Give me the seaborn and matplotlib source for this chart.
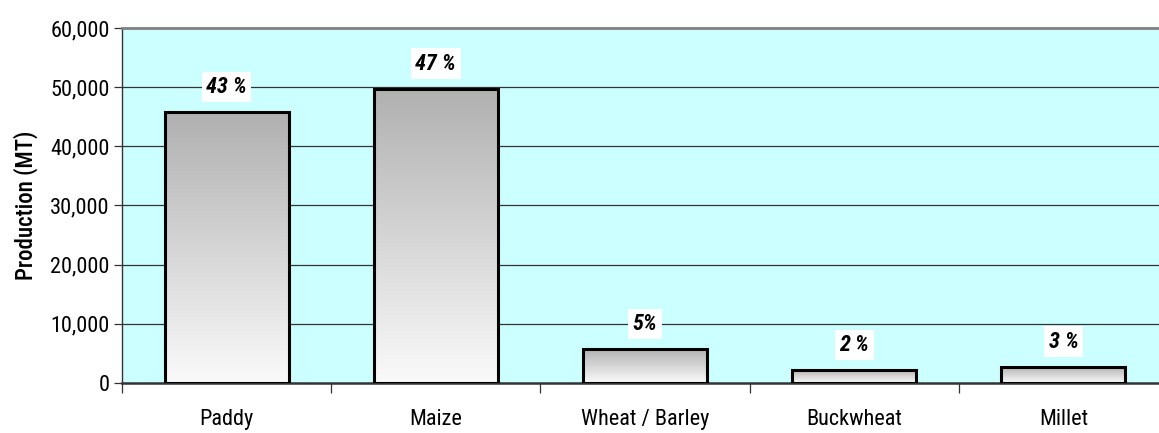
import numpy as np
import pandas as pd
import matplotlib
matplotlib.use("Agg")
import matplotlib.pyplot as plt
import seaborn as sns
from matplotlib.ticker import FuncFormatter, FixedLocator

crops = ["Paddy", "Maize", "Wheat / Barley", "Buckwheat", "Millet"]
production = [45800, 49700, 5750, 2200, 2750]
share_labels = ["43 %", "47 %", "5%", "2 %", "3 %"]
yticks = [0, 10000, 20000, 30000, 40000, 50000, 60000]

sns.set_theme(style="white")
plt.rcParams["font.family"] = ["Roboto Condensed", "Liberation Sans", "DejaVu Sans"]
plt.rcParams["text.color"] = "black"
plt.rcParams["axes.labelcolor"] = "black"
plt.rcParams["xtick.color"] = "black"
plt.rcParams["ytick.color"] = "black"

df = pd.DataFrame({"crop": crops, "prod": production})

fig = plt.figure(figsize=(11.59, 4.33), dpi=100)
ax = fig.add_axes([122 / 1159, 50 / 433, (1168 - 122) / 1159, (383 - 28) / 433])
ax.set_facecolor("#CCFFFF")

sns.barplot(data=df, x="crop", y="prod", ax=ax, width=0.593, color="white",
            edgecolor="black", linewidth=2.2, zorder=3)

# gradient fill inside each bar
grad = np.linspace(0, 1, 256).reshape(-1, 1)
cmap = matplotlib.colors.LinearSegmentedColormap.from_list("g", ["#FAFAFA", "#B0B0B0"])
for p in ax.patches:
    x0, y0 = p.get_x(), p.get_y()
    w, h = p.get_width(), p.get_height()
    im = ax.imshow(grad, extent=[x0, x0 + w, y0, y0 + h], origin="lower",
                   aspect="auto", cmap=cmap, zorder=2.9)
    im.set_clip_path(p)
    p.set_facecolor("none")
ax.set_xlim(-0.5, 4.5)
ax.set_ylim(0, 60000)

# grid
for yv in yticks[1:-1]:
    ax.axhline(yv, color="#333333", lw=0.9, zorder=1)

ax.yaxis.set_major_locator(FixedLocator(yticks))
ax.yaxis.set_major_formatter(FuncFormatter(lambda v, _: f"{int(v):,}"))
ax.tick_params(axis="y", which="major", left=True, length=6, width=0.9,
               color="#333333", labelsize=16, pad=3)
ax.tick_params(axis="x", which="major", bottom=False, labelsize=16, pad=13)
ax.xaxis.set_minor_locator(FixedLocator([-0.5, 0.5, 1.5, 2.5, 3.5]))
ax.tick_params(axis="x", which="minor", bottom=True, length=7, width=0.9, color="#333333")

ax.set_xlabel("")
ax.set_ylabel("Production (MT)", fontsize=16.5, fontweight="medium", labelpad=9)

for s in ["left", "bottom"]:
    ax.spines[s].set_visible(True)
    ax.spines[s].set_color("#333333")
ax.spines["left"].set_linewidth(1.0)
ax.spines["bottom"].set_linewidth(1.8)
ax.spines["top"].set_color("#808080")
ax.spines["top"].set_linewidth(2.0)
ax.spines["right"].set_visible(False)

for i, (v, lab) in enumerate(zip(production, share_labels)):
    ax.annotate(lab, (i, v), xytext=(0, 18), textcoords="offset points",
                ha="center", va="center", fontsize=16, fontstyle="italic",
                fontweight="semibold", zorder=5,
                bbox=dict(boxstyle="square,pad=0.2", fc="white", ec="none"))

fig.savefig("out.png", dpi=100)
